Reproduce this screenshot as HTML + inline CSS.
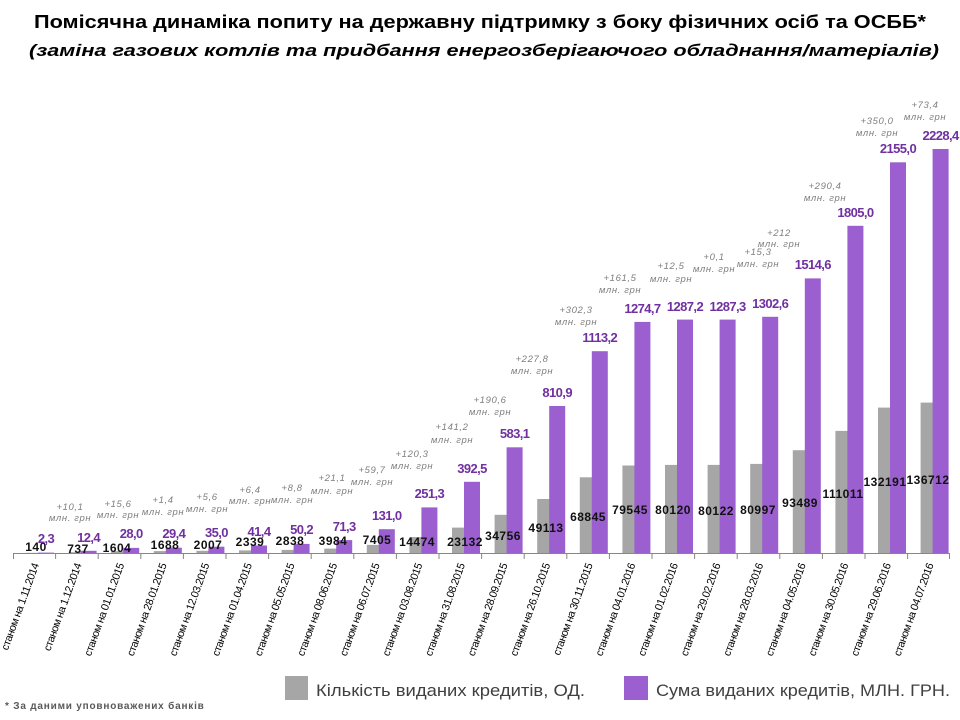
<!DOCTYPE html>
<html><head><meta charset="utf-8"><style>
html,body{margin:0;padding:0;background:#fff;}
svg{display:block;font-family:"Liberation Sans",sans-serif;}
.g{fill:#a6a6a6}.p{fill:#9b5fcf}
.gl{font-size:12px;font-weight:bold;fill:#111;text-anchor:middle;letter-spacing:0.5px}
.pl{font-size:13px;font-weight:bold;fill:#7030a0;text-anchor:middle;letter-spacing:-0.6px}
.an{font-size:9.5px;font-style:italic;fill:#7f7f7f;text-anchor:middle;letter-spacing:0.6px}
.xl{font-size:10.8px;fill:#000;text-anchor:end;letter-spacing:-0.5px}
</style></head><body>
<svg width="960" height="720" viewBox="0 0 960 720">
<text x="480" y="28" font-size="18" font-weight="bold" text-anchor="middle" textLength="892" lengthAdjust="spacingAndGlyphs" fill="#000">Помісячна динаміка попиту на державну підтримку з боку фізичних осіб та ОСББ*</text>
<text x="484" y="56" font-size="17" font-weight="bold" font-style="italic" text-anchor="middle" textLength="910" lengthAdjust="spacingAndGlyphs" fill="#000">(заміна газових котлів  та  придбання енергозберігаючого обладнання/матеріалів)</text>

<g>
<rect class="g" x="26" y="552.85" width="17" height="0.15"/><rect class="p" x="38" y="552.6" width="16" height="0.4"/>
<rect class="g" x="68.6" y="552.2" width="17" height="0.8"/><rect class="p" x="80.6" y="550.8" width="16" height="2.2"/>
<rect class="g" x="111.2" y="551.2" width="17" height="1.8"/><rect class="p" x="123.2" y="547.9" width="16" height="5.1"/>
<rect class="g" x="153.8" y="551.1" width="17" height="1.9"/><rect class="p" x="165.8" y="547.7" width="16" height="5.3"/>
<rect class="g" x="196.4" y="550.8" width="17" height="2.2"/><rect class="p" x="208.4" y="546.7" width="16" height="6.3"/>
<rect class="g" x="239" y="550.4" width="17" height="2.6"/><rect class="p" x="251" y="545.5" width="16" height="7.5"/>
<rect class="g" x="281.6" y="549.9" width="17" height="3.1"/><rect class="p" x="293.6" y="543.9" width="16" height="9.1"/>
<rect class="g" x="324.2" y="548.6" width="17" height="4.4"/><rect class="p" x="336.2" y="540.1" width="16" height="12.9"/>
<rect class="g" x="366.8" y="544.9" width="17" height="8.1"/><rect class="p" x="378.8" y="529.2" width="16" height="23.8"/>
<rect class="g" x="409.4" y="537.1" width="17" height="15.9"/><rect class="p" x="421.4" y="507.4" width="16" height="45.6"/>
<rect class="g" x="452" y="527.6" width="17" height="25.4"/><rect class="p" x="464" y="481.8" width="16" height="71.2"/>
<rect class="g" x="494.6" y="514.8" width="17" height="38.2"/><rect class="p" x="506.6" y="447.3" width="16" height="105.7"/>
<rect class="g" x="537.2" y="499" width="17" height="54"/><rect class="p" x="549.2" y="406" width="16" height="147"/>
<rect class="g" x="579.8" y="477.3" width="17" height="75.7"/><rect class="p" x="591.8" y="351.2" width="16" height="201.8"/>
<rect class="g" x="622.4" y="465.5" width="17" height="87.5"/><rect class="p" x="634.4" y="321.9" width="16" height="231.1"/>
<rect class="g" x="665" y="464.9" width="17" height="88.1"/><rect class="p" x="677" y="319.6" width="16" height="233.4"/>
<rect class="g" x="707.6" y="464.9" width="17" height="88.1"/><rect class="p" x="719.6" y="319.6" width="16" height="233.4"/>
<rect class="g" x="750.2" y="463.9" width="17" height="89.1"/><rect class="p" x="762.2" y="316.8" width="16" height="236.2"/>
<rect class="g" x="792.8" y="450.2" width="17" height="102.8"/><rect class="p" x="804.8" y="278.4" width="16" height="274.6"/>
<rect class="g" x="835.4" y="430.9" width="17" height="122.1"/><rect class="p" x="847.4" y="225.8" width="16" height="327.2"/>
<rect class="g" x="878" y="407.6" width="17" height="145.4"/><rect class="p" x="890" y="162.3" width="16" height="390.7"/>
<rect class="g" x="920.6" y="402.6" width="17" height="150.4"/><rect class="p" x="932.6" y="149" width="16" height="404"/>
</g>

<g stroke="#868686" stroke-width="1">
<line x1="13" y1="553.5" x2="950" y2="553.5"/>
<path d="M13.5 553v6M55.6 553v6M98.2 553v6M140.8 553v6M183.4 553v6M226 553v6M268.6 553v6M311.2 553v6M353.8 553v6M396.4 553v6M439 553v6M481.6 553v6M524.2 553v6M566.8 553v6M609.4 553v6M652 553v6M694.6 553v6M737.2 553v6M779.8 553v6M822.4 553v6M865 553v6M907.6 553v6M949.5 553v6"/>
</g>

<g>
<text class="gl" x="36" y="551">140</text>
<text class="gl" x="78" y="553">737</text>
<text class="gl" x="117" y="552">1604</text>
<text class="gl" x="165" y="549">1688</text>
<text class="gl" x="208" y="549">2007</text>
<text class="gl" x="250" y="546">2339</text>
<text class="gl" x="290" y="545">2838</text>
<text class="gl" x="333" y="545">3984</text>
<text class="gl" x="377" y="544">7405</text>
<text class="gl" x="417" y="546">14474</text>
<text class="gl" x="465" y="546">23132</text>
<text class="gl" x="503" y="540">34756</text>
<text class="gl" x="546" y="532">49113</text>
<text class="gl" x="588" y="521">68845</text>
<text class="gl" x="630" y="514">79545</text>
<text class="gl" x="673" y="514">80120</text>
<text class="gl" x="716" y="515">80122</text>
<text class="gl" x="758" y="514">80997</text>
<text class="gl" x="800" y="507">93489</text>
<text class="gl" x="843" y="498">111011</text>
<text class="gl" x="885" y="486">132191</text>
<text class="gl" x="928" y="484">136712</text>
</g>

<g>
<text class="pl" x="46" y="543">2,3</text>
<text class="pl" x="88.6" y="542">12,4</text>
<text class="pl" x="131.2" y="538">28,0</text>
<text class="pl" x="173.8" y="538">29,4</text>
<text class="pl" x="216.4" y="537">35,0</text>
<text class="pl" x="259" y="536">41,4</text>
<text class="pl" x="301.6" y="534">50,2</text>
<text class="pl" x="344.2" y="531">71,3</text>
<text class="pl" x="386.8" y="520">131,0</text>
<text class="pl" x="429.4" y="498">251,3</text>
<text class="pl" x="472" y="473">392,5</text>
<text class="pl" x="514.6" y="438">583,1</text>
<text class="pl" x="557.2" y="397">810,9</text>
<text class="pl" x="599.8" y="342">1113,2</text>
<text class="pl" x="642.4" y="313">1274,7</text>
<text class="pl" x="685" y="311">1287,2</text>
<text class="pl" x="727.6" y="311">1287,3</text>
<text class="pl" x="770.2" y="308">1302,6</text>
<text class="pl" x="812.8" y="269">1514,6</text>
<text class="pl" x="855.4" y="217">1805,0</text>
<text class="pl" x="898" y="153">2155,0</text>
<text class="pl" x="940.6" y="140">2228,4</text>
</g>

<g>
<text class="an" x="70" y="510">+10,1</text><text class="an" x="70" y="521">млн. грн</text>
<text class="an" x="118" y="507">+15,6</text><text class="an" x="118" y="518">млн. грн</text>
<text class="an" x="163" y="503">+1,4</text><text class="an" x="163" y="515">млн. грн</text>
<text class="an" x="207" y="500">+5,6</text><text class="an" x="207" y="512">млн. грн</text>
<text class="an" x="250" y="493">+6,4</text><text class="an" x="250" y="504">млн. грн</text>
<text class="an" x="292" y="491">+8,8</text><text class="an" x="292" y="503">млн. грн</text>
<text class="an" x="332" y="481">+21,1</text><text class="an" x="332" y="494">млн. грн</text>
<text class="an" x="372" y="473">+59,7</text><text class="an" x="372" y="485">млн. грн</text>
<text class="an" x="412" y="457">+120,3</text><text class="an" x="412" y="469">млн. грн</text>
<text class="an" x="452" y="430">+141,2</text><text class="an" x="452" y="443">млн. грн</text>
<text class="an" x="490" y="403">+190,6</text><text class="an" x="490" y="415">млн. грн</text>
<text class="an" x="532" y="362">+227,8</text><text class="an" x="532" y="374">млн. грн</text>
<text class="an" x="576" y="313">+302,3</text><text class="an" x="576" y="325">млн. грн</text>
<text class="an" x="620" y="281">+161,5</text><text class="an" x="620" y="293">млн. грн</text>
<text class="an" x="671" y="269">+12,5</text><text class="an" x="671" y="282">млн. грн</text>
<text class="an" x="714" y="260">+0,1</text><text class="an" x="714" y="272">млн. грн</text>
<text class="an" x="758" y="255">+15,3</text><text class="an" x="758" y="267">млн. грн</text>
<text class="an" x="779" y="236">+212</text><text class="an" x="779" y="247">млн. грн</text>
<text class="an" x="825" y="189">+290,4</text><text class="an" x="825" y="201">млн. грн</text>
<text class="an" x="877" y="124">+350,0</text><text class="an" x="877" y="136">млн. грн</text>
<text class="an" x="925" y="108">+73,4</text><text class="an" x="925" y="120">млн. грн</text>
</g>

<g>
<text class="xl" transform="translate(39,565) rotate(-70)">станом на 1.11.2014</text>
<text class="xl" transform="translate(81.6,565) rotate(-70)">станом на 1.12.2014</text>
<text class="xl" transform="translate(124.2,565) rotate(-70)">станом на 01.01.2015</text>
<text class="xl" transform="translate(166.8,565) rotate(-70)">станом на 28.01.2015</text>
<text class="xl" transform="translate(209.4,565) rotate(-70)">станом на 12.03.2015</text>
<text class="xl" transform="translate(252,565) rotate(-70)">станом на 01.04.2015</text>
<text class="xl" transform="translate(294.6,565) rotate(-70)">станом на 05.05.2015</text>
<text class="xl" transform="translate(337.2,565) rotate(-70)">станом на 08.06.2015</text>
<text class="xl" transform="translate(379.8,565) rotate(-70)">станом на 06.07.2015</text>
<text class="xl" transform="translate(422.4,565) rotate(-70)">станом на 03.08.2015</text>
<text class="xl" transform="translate(465,565) rotate(-70)">станом на 31.08.2015</text>
<text class="xl" transform="translate(507.6,565) rotate(-70)">станом на 28.09.2015</text>
<text class="xl" transform="translate(550.2,565) rotate(-70)">станом на 26.10.2015</text>
<text class="xl" transform="translate(592.8,565) rotate(-70)">станом на 30.11.2015</text>
<text class="xl" transform="translate(635.4,565) rotate(-70)">станом на 04.01.2016</text>
<text class="xl" transform="translate(678,565) rotate(-70)">станом на 01.02.2016</text>
<text class="xl" transform="translate(720.6,565) rotate(-70)">станом на 29.02.2016</text>
<text class="xl" transform="translate(763.2,565) rotate(-70)">станом на 28.03.2016</text>
<text class="xl" transform="translate(805.8,565) rotate(-70)">станом на 04.05.2016</text>
<text class="xl" transform="translate(848.4,565) rotate(-70)">станом на 30.05.2016</text>
<text class="xl" transform="translate(891,565) rotate(-70)">станом на 29.06.2016</text>
<text class="xl" transform="translate(933.6,565) rotate(-70)">станом на 04.07.2016</text>
</g>

<rect class="g" x="285" y="676" width="23" height="24"/>
<text x="316" y="696" font-size="17" fill="#404040" textLength="269" lengthAdjust="spacingAndGlyphs">Кількість виданих кредитів, ОД.</text>
<rect class="p" x="624" y="676" width="24" height="24"/>
<text x="656" y="696" font-size="17" fill="#404040" textLength="294" lengthAdjust="spacingAndGlyphs">Сума виданих кредитів, МЛН. ГРН.</text>
<text x="5" y="709" font-size="10" font-weight="bold" fill="#595959" letter-spacing="0.8">* За даними уповноважених банків</text>
</svg>
</body></html>
